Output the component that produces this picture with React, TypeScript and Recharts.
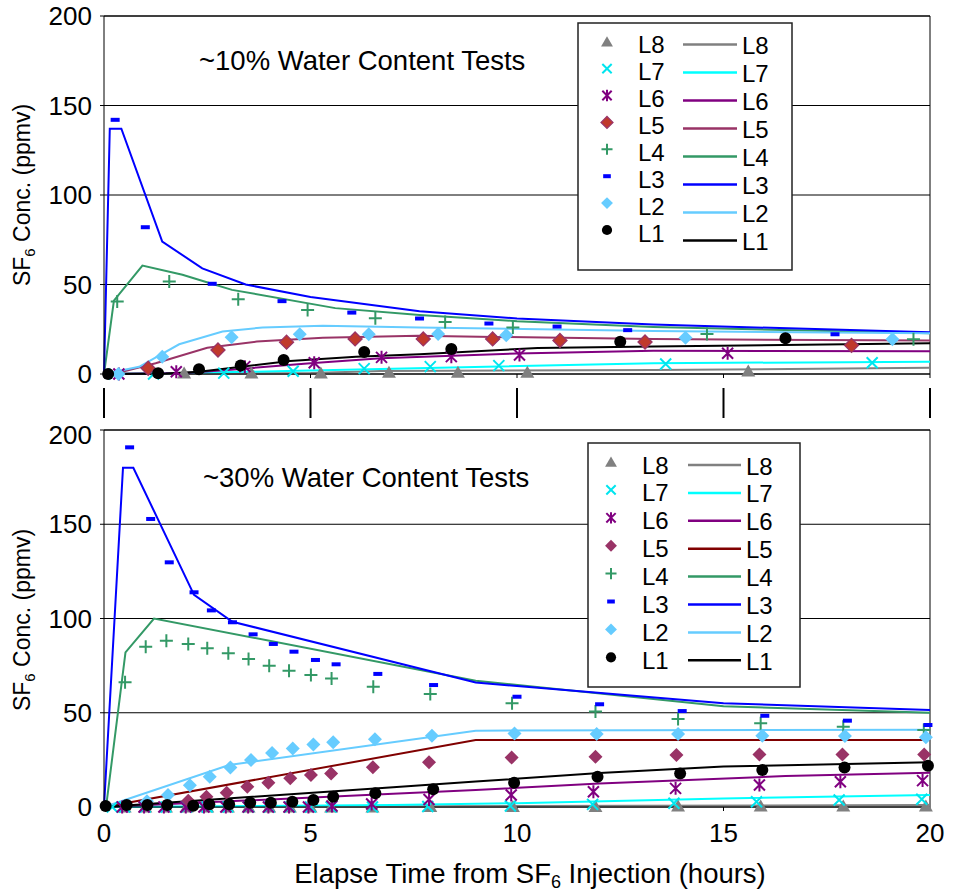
import { ComposedChart, Line, Scatter, XAxis, YAxis, CartesianGrid, ReferenceLine } from "recharts";

type Pt = [number, number];

const HOUR_TICKS = [0, 5, 10, 15, 20];
const PPMV_TICKS = [0, 50, 100, 150, 200];
const LEGEND_NAMES = ["L8", "L7", "L6", "L5", "L4", "L3", "L2", "L1"];
const FONT = "'Liberation Sans', Arial, sans-serif";

// ~10% water content tests, measured [hours, ppmv]
const w10L8: Pt[] = [[1.94, 0.5], [3.57, 0.5], [5.25, 0.5], [6.9, 1], [8.57, 1], [10.25, 1], [15.6, 1.7]];
const w10L7: Pt[] = [[0.25, 0], [1.2, 0], [2.9, 0.5], [4.58, 1.5], [6.3, 3], [7.9, 4.1], [9.56, 4.7], [13.6, 5.6], [18.6, 6.3]];
const w10L6: Pt[] = [[0.36, 0], [1.75, 1.3], [3.41, 4.1], [5.09, 6.3], [6.72, 9.3], [8.41, 9.7], [10.06, 10.6], [15.1, 11.6]];
const w10L5: Pt[] = [[1.07, 3.2], [2.76, 13.4], [4.42, 17.8], [6.08, 19.6], [7.73, 19.6], [9.41, 19.6], [11.04, 18.7], [13.1, 17.9], [18.1, 16]];
const w10L4: Pt[] = [[0.32, 40.5], [1.58, 51.7], [3.25, 41.8], [4.93, 35.8], [6.57, 31.2], [8.26, 29], [9.9, 26], [14.6, 22.4], [19.6, 19.4]];
const w10L3: Pt[] = [[0.27, 142], [1.0, 82], [2.62, 50.4], [4.31, 40.7], [6.0, 34.3], [7.64, 31], [9.32, 28.2], [10.97, 26.5], [12.68, 24.5], [17.7, 22.2]];
const w10L2: Pt[] = [[0.35, 0], [1.41, 9.7], [3.09, 20.5], [4.74, 22.2], [6.41, 22.2], [8.09, 22.4], [9.74, 21.7], [14.08, 20.3], [19.09, 19.4]];
const w10L1: Pt[] = [[0.1, 0], [1.31, 0.4], [2.3, 2.6], [3.31, 4.7], [4.35, 7.8], [6.3, 12.3], [8.41, 14], [12.5, 18], [16.5, 20]];

// ~10% water content tests, model curves
const w10L8Fit: Pt[] = [[0, 0], [5, 0.5], [6.7, 1.7], [13.3, 2.2], [20, 3.5]];
const w10L7Fit: Pt[] = [[0, 0], [2, 0.5], [5, 2], [6.7, 2.8], [13.3, 6], [20, 6.9]];
const w10L6Fit: Pt[] = [[0, 0], [2, 0.5], [3.4, 3], [5, 6], [6.7, 8.8], [10, 11.5], [13.3, 13], [20, 12.7]];
const w10L5Fit: Pt[] = [[0, 0], [0.44, 1.3], [1.25, 6], [2.5, 14.7], [3.7, 18.1], [5.3, 20.3], [7.6, 21.3], [13.3, 19.5], [20, 18.7]];
const w10L4Fit: Pt[] = [[0, 0], [0.24, 41], [0.93, 60.6], [1.9, 55.4], [2.55, 50.8], [3.1, 47], [5.6, 36.8], [7.64, 33], [10, 29.5], [13.3, 26.3], [20, 22.8]];
const w10L3Fit: Pt[] = [[0, 0], [0.14, 137], [0.42, 137], [1.41, 74], [2.38, 59], [3.43, 50], [5, 43], [7.64, 35], [10, 31], [13.3, 27.6], [20, 23.3]];
const w10L2Fit: Pt[] = [[0, 0], [0.85, 4], [1.82, 16.6], [2.87, 23.7], [3.84, 26], [5.3, 26.9], [7.64, 26], [13.3, 24], [20, 22.8]];
const w10L1Fit: Pt[] = [[0, 0], [1.5, 0.3], [2.3, 1.3], [4.5, 7.3], [6.1, 9.7], [7.64, 11], [10.5, 14.5], [13.3, 15.3], [20, 17.2]];

// ~30% water content tests, measured [hours, ppmv]
const w30L8: Pt[] = [[0.5, 0], [1, 0], [1.5, 0], [2, 0], [2.5, 0], [3, 0], [3.5, 0], [4, 0], [4.5, 0], [5, 0], [5.5, 0], [6.5, 0], [7.9, 0.3], [9.9, 0.3], [11.9, 0.3], [13.9, 0.5], [15.9, 0.5], [17.9, 0.5], [19.9, 0.5]];
const w30L7: Pt[] = [[0.2, 0], [0.5, 0], [1, 0], [1.5, 0], [2, 0], [2.5, 0], [3, 0], [3.5, 0], [4, 0], [4.5, 0], [5, 0], [5.5, 0], [6.5, 0], [7.84, 0.3], [9.84, 0.5], [11.83, 1.4], [13.8, 2], [15.8, 2.8], [17.8, 3.7], [19.8, 4.1]];
const w30L6: Pt[] = [[0.44, 0], [0.97, 0], [1.45, 0], [1.98, 0], [2.42, 0], [2.95, 0], [3.49, 0], [3.98, 0], [4.48, 0], [4.95, 0], [5.52, 0.5], [6.48, 1.6], [7.87, 4], [9.86, 6.4], [11.85, 8.1], [13.84, 9.9], [15.87, 11.7], [17.83, 13.4], [19.82, 14]];
const w30L5: Pt[] = [[2.04, 3.3], [2.48, 5.5], [2.97, 7.6], [3.47, 10.8], [3.98, 12.9], [4.51, 15.2], [5.01, 17], [5.5, 17.8], [6.51, 21.1], [7.87, 23.7], [9.87, 26.2], [11.9, 26.7], [13.86, 27.6], [15.87, 27.9], [17.88, 27.9], [19.86, 27.9]];
const w30L4: Pt[] = [[0.51, 66.2], [1.01, 85], [1.51, 88.2], [2.04, 86.5], [2.5, 84.2], [3.01, 81.5], [3.5, 78.5], [4.0, 75], [4.48, 72.3], [5.01, 70], [5.51, 68.2], [6.52, 63.8], [7.9, 60], [9.88, 55], [11.9, 50.6], [13.9, 46.7], [15.9, 44.4], [17.9, 42.6], [19.85, 40.8]];
const w30L3: Pt[] = [[0.62, 190.8], [1.13, 152.8], [1.58, 129.8], [2.18, 113.9], [2.6, 104.3], [3.11, 98], [3.61, 91.6], [4.1, 86.5], [4.6, 82.4], [5.12, 78], [5.62, 75.7], [6.63, 70.6], [7.98, 64.7], [10.0, 58.5], [12.0, 54.5], [14.0, 50.9], [16.0, 48.4], [18.0, 45.8], [19.95, 43.5]];
const w30L2: Pt[] = [[1.04, 3], [1.55, 6.4], [2.08, 11.5], [2.56, 16], [3.06, 21], [3.56, 24.9], [4.07, 28.6], [4.57, 31], [5.07, 33.2], [5.55, 34.3], [6.56, 36], [7.94, 37.8], [9.94, 39], [11.93, 38.7], [13.9, 38.7], [15.94, 37.8], [17.94, 37.7], [19.9, 37]];
const w30L1: Pt[] = [[0.04, 0.5], [0.55, 1], [1.05, 1], [1.53, 1], [2.16, 0.7], [2.55, 1.4], [3.03, 1.4], [3.54, 2.3], [4.04, 2.3], [4.56, 2.8], [5.07, 3.7], [5.55, 5.5], [6.57, 7.3], [7.97, 9.4], [9.93, 12.9], [11.95, 16.1], [13.95, 17.8], [15.94, 19.6], [17.93, 21], [19.95, 21.9]];

// ~30% water content tests, model curves
const w30L8Fit: Pt[] = [[0, 0], [20, 1]];
const w30L7Fit: Pt[] = [[0, 0], [7, 1], [10, 2], [15, 4.5], [20, 6.4]];
const w30L6Fit: Pt[] = [[0, 0], [7, 7], [9, 9], [12, 12.5], [16.5, 16.4], [20, 18.2]];
const w30L5Fit: Pt[] = [[0, 0], [9, 35.5], [20, 35.5]];
const w30L4Fit: Pt[] = [[0.05, 0], [0.52, 82], [1.21, 100], [9, 67], [15, 53.5], [20, 50]];
const w30L3Fit: Pt[] = [[0, 0], [0.46, 180], [0.71, 180], [2.18, 112.5], [3.11, 98.3], [9, 66], [15, 55], [20, 51.5]];
const w30L2Fit: Pt[] = [[0, 0], [3.03, 22.3], [9, 40.5], [20, 41]];
const w30L1Fit: Pt[] = [[0, 0], [7, 10.5], [9, 13.5], [12, 18], [15, 21.5], [20, 23.7]];

type Series = { name: string; kind: string; fill: string; edge?: string; lineColor: string; pts: Pt[]; fit: Pt[] };

const series10: Series[] = [
  { name: "L8", kind: "triangle", fill: "#808080", lineColor: "#808080", pts: w10L8, fit: w10L8Fit },
  { name: "L7", kind: "x", fill: "#00E5EE", lineColor: "#00FFFF", pts: w10L7, fit: w10L7Fit },
  { name: "L6", kind: "asterisk", fill: "#800080", lineColor: "#800080", pts: w10L6, fit: w10L6Fit },
  { name: "L5", kind: "diamond", fill: "#C0392B", edge: "#993366", lineColor: "#993366", pts: w10L5, fit: w10L5Fit },
  { name: "L4", kind: "plus", fill: "#339966", lineColor: "#339966", pts: w10L4, fit: w10L4Fit },
  { name: "L3", kind: "dash", fill: "#0000FF", lineColor: "#0000FF", pts: w10L3, fit: w10L3Fit },
  { name: "L2", kind: "diamond", fill: "#66CCFF", lineColor: "#66CCFF", pts: w10L2, fit: w10L2Fit },
  { name: "L1", kind: "circle", fill: "#000000", lineColor: "#000000", pts: w10L1, fit: w10L1Fit },
];

const series30: Series[] = [
  { name: "L8", kind: "triangle", fill: "#808080", lineColor: "#808080", pts: w30L8, fit: w30L8Fit },
  { name: "L7", kind: "x", fill: "#00E5EE", lineColor: "#00FFFF", pts: w30L7, fit: w30L7Fit },
  { name: "L6", kind: "asterisk", fill: "#800080", lineColor: "#800080", pts: w30L6, fit: w30L6Fit },
  { name: "L5", kind: "diamond", fill: "#993366", lineColor: "#800000", pts: w30L5, fit: w30L5Fit },
  { name: "L4", kind: "plus", fill: "#339966", lineColor: "#339966", pts: w30L4, fit: w30L4Fit },
  { name: "L3", kind: "dash", fill: "#0000FF", lineColor: "#0000FF", pts: w30L3, fit: w30L3Fit },
  { name: "L2", kind: "diamond", fill: "#66CCFF", lineColor: "#66CCFF", pts: w30L2, fit: w30L2Fit },
  { name: "L1", kind: "circle", fill: "#000000", lineColor: "#000000", pts: w30L1, fit: w30L1Fit },
];

const toRows = (pts: Pt[]) => pts.map(([h, v]) => ({ h, v }));

function Marker({ kind, x, y, fill, edge, s = 1 }: { kind: string; x: number; y: number; fill: string; edge?: string; s?: number }) {
  switch (kind) {
    case "triangle":
      return <polygon points={`${x},${y - 6.5 * s} ${x - 7 * s},${y + 5.5 * s} ${x + 7 * s},${y + 5.5 * s}`} fill={fill} />;
    case "x": {
      const a = 5.5 * s;
      return <path d={`M${x - a},${y - a}L${x + a},${y + a}M${x - a},${y + a}L${x + a},${y - a}`} stroke={fill} strokeWidth={2} />;
    }
    case "asterisk": {
      const a = 5.5 * s;
      return (
        <path
          d={`M${x - a},${y - a}L${x + a},${y + a}M${x - a},${y + a}L${x + a},${y - a}M${x},${y - a - 1}L${x},${y + a + 1}`}
          stroke={fill}
          strokeWidth={2}
        />
      );
    }
    case "diamond": {
      const a = 7 * s;
      return (
        <polygon
          points={`${x},${y - a} ${x + a},${y} ${x},${y + a} ${x - a},${y}`}
          fill={fill}
          stroke={edge || "none"}
          strokeWidth={1.3}
        />
      );
    }
    case "plus": {
      const a = 6.5 * s;
      return <path d={`M${x - a},${y}L${x + a},${y}M${x},${y - a}L${x},${y + a}`} stroke={fill} strokeWidth={2} />;
    }
    case "dash":
      return <rect x={x - 4.5 * s} y={y - 2} width={9 * s} height={4} fill={fill} />;
    default:
      return <circle cx={x} cy={y} r={6 * s} fill={fill} />;
  }
}

// top panel: no labels, short inner tick plus a long detached tick below
const SplitTick = (p: any) => (
  <g>
    <line x1={p.x} x2={p.x} y1={p.y} y2={p.y + 4} stroke="#000" />
    <line x1={p.x} x2={p.x} y1={p.y + 14} y2={p.y + 44} stroke="#000" strokeWidth={2} />
  </g>
);

function Panel({ series, height, margin, topPanel }: { series: Series[]; height: number; margin: any; topPanel: boolean }) {
  return (
    <ComposedChart width={958} height={height} margin={margin}>
      <CartesianGrid vertical={false} stroke="#000" strokeWidth={1} />
      {topPanel ? (
        <XAxis
          type="number"
          dataKey="h"
          domain={[0, 20]}
          ticks={HOUR_TICKS}
          height={30}
          stroke="#000"
          tickLine={false}
          tickSize={0}
          tickMargin={0}
          tick={<SplitTick />}
        />
      ) : (
        <XAxis
          type="number"
          dataKey="h"
          domain={[0, 20]}
          ticks={HOUR_TICKS}
          height={60}
          stroke="#000"
          tickSize={4}
          tickMargin={13}
          tick={{ fontSize: 26, fill: "#000", fontFamily: FONT }}
        />
      )}
      <YAxis
        type="number"
        dataKey="v"
        domain={[0, 200]}
        ticks={PPMV_TICKS}
        width={104}
        stroke="#000"
        tickSize={4}
        tickMargin={8}
        tick={{ fontSize: 26, fill: "#000", fontFamily: FONT }}
      />
      <ReferenceLine y={200} stroke="#000" />
      <ReferenceLine x={20} stroke="#000" />
      {series.map((s) => (
        <Line
          key={"fit" + s.name}
          data={toRows(s.fit)}
          dataKey="v"
          type="linear"
          stroke={s.lineColor}
          strokeWidth={2}
          dot={false}
          activeDot={false}
          isAnimationActive={false}
        />
      ))}
      {series.map((s) => (
        <Scatter
          key={"pts" + s.name}
          data={toRows(s.pts)}
          dataKey="v"
          isAnimationActive={false}
          shape={(p: any) => <Marker kind={s.kind} x={p.cx} y={p.cy} fill={s.fill} edge={s.edge} />}
        />
      ))}
    </ComposedChart>
  );
}

function LegendBox({ series, box, rows }: { series: Series[]; box: number[]; rows: number[] }) {
  const [bx, by, bw, bh] = box;
  const [y0, step, ry0, rstep, mx, lx, l1, l2, rx] = rows;
  const byName: Record<string, Series> = {};
  series.forEach((s) => (byName[s.name] = s));
  return (
    <g fontFamily={FONT} fontSize={24}>
      <rect x={bx} y={by} width={bw} height={bh} fill="#fff" stroke="#222" strokeWidth={1.5} />
      {LEGEND_NAMES.map((n, i) => {
        const s = byName[n];
        const y = y0 + step * i;
        const ry = ry0 + rstep * i;
        return (
          <g key={n}>
            <Marker kind={s.kind} x={mx} y={y - 3} fill={s.fill} edge={s.edge} s={0.85} />
            <text x={lx} y={y + 8.5}>{n}</text>
            <line x1={l1} x2={l2} y1={ry} y2={ry} stroke={s.lineColor} strokeWidth={2.5} />
            <text x={rx} y={ry + 9.5}>{n}</text>
          </g>
        );
      })}
    </g>
  );
}

export default function App() {
  return (
    <div style={{ position: "absolute", left: 0, top: 0, width: 958, height: 894, background: "#fff", fontFamily: FONT }}>
      <div style={{ position: "absolute", left: 0, top: 0 }}>
        <Panel series={series10} height={420} margin={{ top: 16, right: 28, bottom: 16, left: 0 }} topPanel />
      </div>
      <div style={{ position: "absolute", left: 0, top: 420 }}>
        <Panel series={series30} height={474} margin={{ top: 10, right: 28, bottom: 27, left: 0 }} topPanel={false} />
      </div>
      <svg width={958} height={894} style={{ position: "absolute", left: 0, top: 0, pointerEvents: "none" }}>
        <LegendBox series={series10} box={[578, 23, 214, 247]} rows={[44.7, 26.9, 44.5, 28, 607, 638, 683, 737, 742]} />
        <LegendBox series={series30} box={[588, 443, 212, 244]} rows={[465, 27.9, 465, 27.9, 611, 642, 688, 741, 746]} />
        <g fontFamily={FONT} fill="#000">
          <text x={199} y={70} fontSize={27.5}>~10% Water Content Tests</text>
          <text x={203} y={487} fontSize={27.5}>~30% Water Content Tests</text>
          <text x={30} y={195} fontSize={23} textAnchor="middle" transform="rotate(-90 30 195)">
            SF<tspan fontSize={15} dy={5}>6</tspan>
            <tspan dy={-5}>{" Conc. (ppmv)"}</tspan>
          </text>
          <text x={30} y={620} fontSize={23} textAnchor="middle" transform="rotate(-90 30 620)">
            SF<tspan fontSize={15} dy={5}>6</tspan>
            <tspan dy={-5}>{" Conc. (ppmv)"}</tspan>
          </text>
          <text x={530} y={883} fontSize={27.5} textAnchor="middle">
            Elapse Time from SF<tspan fontSize={18} dy={5}>6</tspan>
            <tspan dy={-5}>{" Injection (hours)"}</tspan>
          </text>
        </g>
      </svg>
    </div>
  );
}
